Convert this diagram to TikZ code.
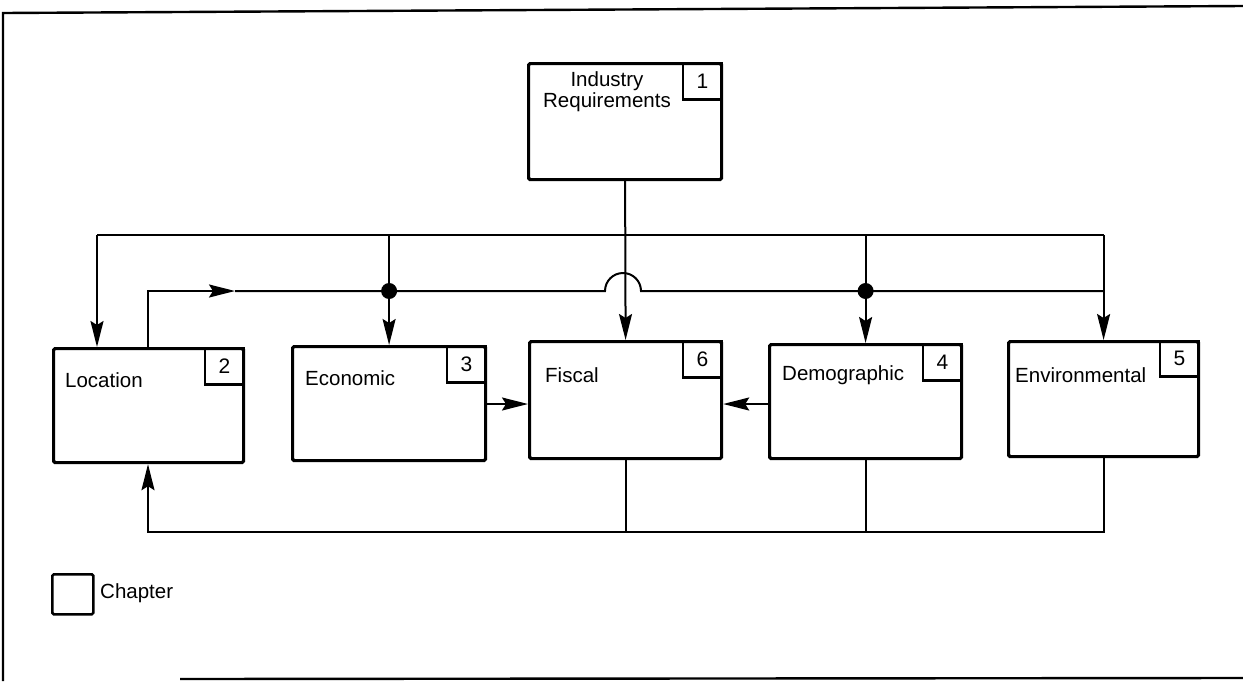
\documentclass[tikz,border=0pt]{standalone}
\usepackage{fontspec}
\setmainfont{Liberation Sans}
\usetikzlibrary{arrows.meta,calc}
\begin{document}
\begin{tikzpicture}[x=1pt,y=-1pt,
  chapbox/.style={draw,line width=3.2pt,rounded corners=1.5pt,anchor=north west,inner sep=0pt},
  numbox/.style={draw,line width=2.6pt,anchor=north east,minimum width=39pt,minimum height=36pt,inner sep=0pt,font=\fontsize{21}{23}\selectfont},
  lbl/.style={anchor=west,inner sep=0pt,font=\fontsize{20.5}{23}\selectfont},
  wire/.style={line width=2pt},
  arr/.style={wire,-{Stealth[length=26pt,width=13pt,inset=4pt]}},
  dot/.style={circle,fill,inner sep=0pt,minimum size=16pt}]
\useasboundingbox (0,0) rectangle (1243,681);

% outer frame (open on the right)
\draw[line width=2.4pt] (3,681) -- (3,13) -- (1243,6);
\draw[line width=2.4pt] (180,679) -- (1243,678);

% chapter boxes
\node[chapbox,minimum width=193pt,minimum height=116pt] (ind) at (527,62) {};
\node[chapbox,minimum width=190pt,minimum height=114pt] (loc) at (52,347) {};
\node[chapbox,minimum width=193pt,minimum height=114pt] (eco) at (291,345) {};
\node[chapbox,minimum width=192pt,minimum height=117pt] (fis) at (528,340) {};
\node[chapbox,minimum width=192pt,minimum height=114pt] (dem) at (768,343) {};
\node[chapbox,minimum width=190pt,minimum height=115pt] (env) at (1007,340) {};

% chapter numbers
\node[numbox] (n1) at (ind.north east) {1};
\node[numbox] (n2) at (loc.north east) {2};
\node[numbox] (n3) at (eco.north east) {3};
\node[numbox] (n6) at (fis.north east) {6};
\node[numbox] (n4) at (dem.north east) {4};
\node[numbox,minimum height=35pt] (n5) at (env.north east) {5};

% labels
\node[align=center,inner sep=0pt,font=\fontsize{20.5}{21}\selectfont] (tind) at (607,92) {Industry\\Requirements};
\node[lbl] (tloc) at (65,380) {Location};
\node[lbl] (teco) at (305,378) {Economic};
\node[lbl] (tfis) at (545,375) {Fiscal};
\node[lbl] (tdem) at (782,375) {Demographic};
\node[lbl] (tenv) at (1015,375) {Environmental};

% upper distribution bus
\coordinate (busL) at (97,235);
\coordinate (busR) at (env.north |- busL);
\draw[wire] (busL) -- (busR);
\draw[arr] (busL) -- (busL |- loc.north);
\draw[arr] (eco.north |- busL) -- (eco.north);
\draw[arr] (dem.north |- busL) -- (dem.north);
\draw[arr] (busR) -- (env.north);
\draw[arr] (ind.south) -- (fis.north);

% feed line from Location, hopping over the central line
\coordinate (ls) at ($(loc.north west)+(96,0)$);
\coordinate (lc) at (ls |- 0,291);
\coordinate (la) at (235,291);
\coordinate (h1) at (605,291);
\coordinate (h2) at (641,291);
\coordinate (le) at (env.north |- lc);
\draw[arr] (ls) -- (lc) -- (la);
\draw[wire] (la) -- (h1) arc (180:0:18pt) -- (le);
\node[dot] (d1) at (eco.north |- lc) {};
\node[dot] (d2) at (dem.north |- lc) {};

% lateral inputs to Fiscal
\coordinate (my) at (0,404);
\draw[arr] (eco.east |- my) -- (fis.west |- my);
\draw[arr] (dem.west |- my) -- (fis.east |- my);

% feedback to Location
\coordinate (fb) at (0,532);
\coordinate (lb) at ($(loc.south west)+(96,0)$);
\draw[wire] (fis.south) -- (fis.south |- fb);
\draw[wire] (dem.south) -- (dem.south |- fb);
\draw[arr] (env.south) |- (lb |- fb) -- (lb);

% legend
\node[chapbox,line width=2.6pt,minimum width=41pt,minimum height=40pt] (leg) at (51,573) {};
\node[lbl] (tleg) at (100,593) {Chapter};
\end{tikzpicture}
\end{document}
